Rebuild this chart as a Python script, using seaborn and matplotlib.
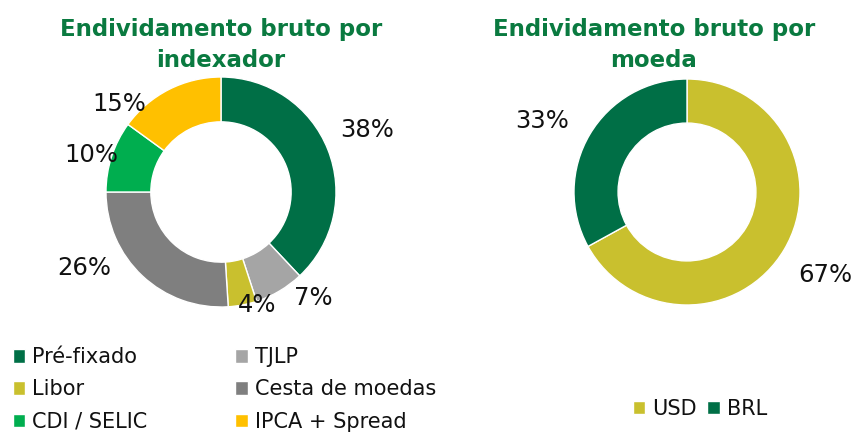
import numpy as np
import matplotlib
matplotlib.use("Agg")
import matplotlib.pyplot as plt
import seaborn as sns

sns.set_theme(style="white")
plt.rcParams['font.family'] = ['DejaVu Sans']

# data
indexador_labels = ["Pré-fixado", "TJLP", "Libor", "Cesta de moedas", "CDI / SELIC", "IPCA + Spread"]
indexador_values = [38, 7, 4, 26, 10, 15]
indexador_colors = ["#006F46", "#A5A5A5", "#C9C02E", "#7F7F7F", "#00AE4F", "#FFC000"]

moeda_labels = ["USD", "BRL"]
moeda_values = [67, 33]
moeda_colors = ["#C9C02E", "#006F46"]

title_green = "#0A7A40"
title_left = "Endividamento bruto por\nindexador"
title_right = "Endividamento bruto por\nmoeda"

# label placement (radius in outer-radius units, angle in degrees)
left_label_pos = [(1.38, 23), (1.22, -49), (1.03, -72), (1.36, -151), (1.17, 164), (1.17, 139)]
right_label_pos = [(1.43, -31), (1.43, 154)]

fig = plt.figure(figsize=(8.54, 4.32), dpi=100)

ax1 = fig.add_axes([106/854, 125/432, 230/854, 230/432])
ax2 = fig.add_axes([574/854, 127/432, 226/854, 226/432])


def donut(ax, values, colors, label_pos):
    wedges, _ = ax.pie(values, colors=colors, startangle=90, counterclock=False,
                       radius=1.0, wedgeprops=dict(width=0.39, edgecolor="white", linewidth=1))
    ax.set_xlim(-1, 1)
    ax.set_ylim(-1, 1)
    ax.set_aspect("equal")
    for v, (r, a) in zip(values, label_pos):
        ax.text(r*np.cos(np.radians(a)), r*np.sin(np.radians(a)), f"{v}%",
                ha="center", va="center", fontsize=17.5, color="#111111", clip_on=False)
    return wedges


w1 = donut(ax1, indexador_values, indexador_colors, left_label_pos)
w2 = donut(ax2, moeda_values, moeda_colors, right_label_pos)

fig.text(221/854, 1-45/432, title_left, ha="center", va="center", fontsize=16.5,
         fontweight="bold", color=title_green, linespacing=1.45)
fig.text(654/854, 1-45/432, title_right, ha="center", va="center", fontsize=16.5,
         fontweight="bold", color=title_green, linespacing=1.45)

order = [0, 2, 4, 1, 3, 5]
fig.legend([w1[i] for i in order], [indexador_labels[i] for i in order], ncol=2,
           loc="upper left", bbox_to_anchor=(0.005, 1-339/432), frameon=False,
           fontsize=15, handlelength=0.6, handleheight=0.6, handletextpad=0.35,
           labelspacing=0.58, columnspacing=4.2, borderaxespad=0,
           labelcolor="#111111")

fig.legend(w2, moeda_labels, ncol=2, loc="center", bbox_to_anchor=(700/854, 1-409/432),
           frameon=False, fontsize=15, handlelength=0.6, handleheight=0.6,
           handletextpad=0.35, columnspacing=0.5, labelcolor="#111111")

fig.savefig("out.png", dpi=100, facecolor="white")
